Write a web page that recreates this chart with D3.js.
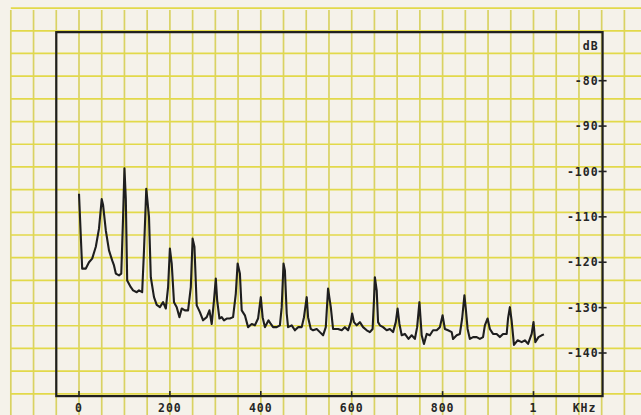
<!DOCTYPE html>
<html>
<head>
<meta charset="utf-8">
<script src="https://cdn.jsdelivr.net/npm/d3@7"></script>
<style>
    body { margin: 0; background: #f5f2ea; }
    svg { display: block; }
    .lbl { font-family: "DejaVu Sans Mono", monospace; font-weight: bold; font-size: 11.5px; fill: #262626; letter-spacing: 1px; }
</style>
</head>
<body>
<div id="chart"></div>
<script>
// spectrum trace: frequency (Hz) and level (dB)
var freqs = [0, 7, 15, 22, 29, 37, 44, 50, 53, 59, 66, 73, 77, 81, 88, 93, 97, 100, 103, 106,
    114, 119, 127, 132, 139, 143, 148, 154, 158, 165, 171, 178, 185, 191, 196, 200, 204, 209, 215, 221,
    226, 233, 240, 246, 250, 254, 259, 266, 273, 281, 287, 292, 297, 301, 304, 309, 314, 319, 325, 332,
    339, 345, 349, 354, 358, 365, 372, 380, 387, 394, 400, 404, 409, 417, 422, 427, 435, 442, 446, 450,
    453, 457, 460, 468, 475, 482, 490, 495, 501, 504, 510, 515, 523, 530, 537, 543, 548, 554, 559, 567,
    570, 578, 585, 592, 598, 601, 605, 611, 618, 625, 633, 640, 646, 649, 651, 655, 658, 662, 669, 677,
    684, 691, 697, 701, 705, 710, 717, 725, 732, 739, 744, 749, 754, 759, 765, 772, 779, 787, 794, 800,
    805, 812, 820, 823, 831, 838, 843, 848, 851, 855, 860, 867, 875, 882, 889, 893, 899, 904, 911, 919,
    926, 933, 941, 944, 948, 952, 957, 965, 974, 981, 988, 996, 1000, 1004, 1011, 1018, 1023];

var levels = [-104.9, -121.4, -121.4, -120.0, -119.2, -116.6, -112.6, -106.1, -107.4, -113.0,
    -117.4, -119.6, -120.7, -122.5, -122.9, -122.5, -110.0, -99.3, -106.0, -124.0,
    -125.5, -126.2, -126.6, -126.2, -126.6, -117.4, -103.8, -110.0, -123.3, -127.7,
    -129.4, -129.9, -128.8, -130.2, -125.5, -117.0, -120.3, -128.8, -129.9, -132.1,
    -130.2, -130.6, -130.6, -125.5, -114.8, -116.6, -129.5, -131.0, -132.8, -132.1,
    -130.6, -133.6, -128.4, -123.6, -128.4, -132.4, -132.1, -132.8, -132.4, -132.4,
    -132.1, -126.9, -120.3, -122.5, -130.6, -131.7, -134.3, -133.6, -133.9, -132.4,
    -127.7, -132.1, -134.3, -132.8, -133.6, -134.3, -134.3, -133.9, -129.9, -120.3,
    -121.8, -131.3, -134.3, -133.9, -135.0, -134.3, -134.3, -132.1, -127.7, -132.1,
    -134.7, -135.0, -134.7, -135.4, -136.1, -134.3, -125.8, -129.9, -134.7, -134.7,
    -134.7, -135.0, -134.3, -135.0, -133.2, -131.3, -133.2, -133.9, -133.2, -134.3,
    -135.0, -135.4, -134.7, -128.4, -123.3, -126.2, -133.2, -133.9, -134.3, -135.0,
    -134.7, -135.4, -133.2, -130.2, -133.6, -136.1, -135.8, -136.9, -136.1, -136.9,
    -134.3, -128.8, -136.1, -138.0, -135.8, -136.1, -135.0, -135.0, -134.3, -131.7,
    -134.7, -135.0, -135.4, -136.9, -136.1, -135.8, -132.4, -127.3, -130.2, -134.7,
    -136.9, -136.5, -136.5, -136.9, -136.5, -133.9, -132.4, -134.7, -135.8, -135.8,
    -136.5, -135.8, -135.8, -132.4, -129.9, -133.0, -138.2, -137.2, -137.6, -137.2,
    -138.0, -135.8, -133.2, -137.6, -136.5, -136.1, -135.9];

var dbTicks = [-80, -90, -100, -110, -120, -130, -140];
var hzTicks = [0, 200, 400, 600, 800, 1000];
var hzLabels = ["0", "200", "400", "600", "800", "1"];

window.onload = function(){
    drawSpectrum();
};

function drawSpectrum(){
    var width = 641, height = 415;

    var svg = d3.select("#chart").append("svg")
        .attr("width", width)
        .attr("height", height);

    svg.append("rect")
        .attr("width", width)
        .attr("height", height)
        .attr("fill", "#f5f2ea");

    var x = d3.scaleLinear().domain([0, 1000]).range([79, 533.5]);
    var y = d3.scaleLinear().domain([-80, -140]).range([80.7, 353]);

    // frame edges in data units
    var left = x(-50), right = x(1152), top = y(-69.3), bottom = y(-149.5);

    // paper grid: 50 Hz columns, 5 dB rows (printed slightly off the dB ticks)
    var gx = d3.range(-150, 1250, 50);
    var gy = d3.range(-64, -160, -5);
    var gridTop = y(-64.4), gridLeft = x(-150);

    svg.append("g").selectAll("line")
        .data(gx)
        .enter()
        .append("line")
        .attr("x1", function(d){ return x(d); })
        .attr("x2", function(d){ return x(d); })
        .attr("y1", gridTop)
        .attr("y2", height)
        .attr("stroke", "#d9d263")
        .attr("stroke-width", 1.7);

    svg.append("g").selectAll("line")
        .data(gy)
        .enter()
        .append("line")
        .attr("x1", gridLeft)
        .attr("x2", width)
        .attr("y1", function(d){ return y(d); })
        .attr("y2", function(d){ return y(d); })
        .attr("stroke", "#e2d94a")
        .attr("stroke-width", 1.7);

    // frame
    svg.append("rect")
        .attr("x", left)
        .attr("y", top)
        .attr("width", right - left)
        .attr("height", bottom - top)
        .attr("fill", "none")
        .attr("stroke", "#1f1f1f")
        .attr("stroke-width", 2.2);

    // spectrum trace
    var points = freqs.map(function(f, i){ return [f, levels[i]]; });
    var line = d3.line()
        .x(function(d){ return x(d[0]); })
        .y(function(d){ return y(d[1]); });

    svg.append("path")
        .datum(points)
        .attr("d", line)
        .attr("fill", "none")
        .attr("stroke", "#1e1e1e")
        .attr("stroke-width", 2.1)
        .attr("stroke-linejoin", "round");

    // dB axis on the right
    var yAxis = svg.append("g");
    yAxis.selectAll("line")
        .data(dbTicks)
        .enter()
        .append("line")
        .attr("x1", right - 4)
        .attr("x2", right + 4)
        .attr("y1", function(d){ return y(d); })
        .attr("y2", function(d){ return y(d); })
        .attr("stroke", "#222")
        .attr("stroke-width", 1.6);

    yAxis.selectAll("text")
        .data(dbTicks)
        .enter()
        .append("text")
        .attr("class", "lbl")
        .attr("x", right - 4)
        .attr("y", function(d){ return y(d); })
        .attr("dy", "0.36em")
        .style("text-anchor", "end")
        .text(function(d){ return d; });

    svg.append("text")
        .attr("class", "lbl")
        .attr("x", right - 4)
        .attr("y", top + 18)
        .style("text-anchor", "end")
        .text("dB");

    // frequency axis
    var xAxis = svg.append("g");
    xAxis.selectAll("line")
        .data(hzTicks)
        .enter()
        .append("line")
        .attr("x1", function(d){ return x(d); })
        .attr("x2", function(d){ return x(d); })
        .attr("y1", bottom - 5)
        .attr("y2", bottom)
        .attr("stroke", "#222")
        .attr("stroke-width", 1.6);

    xAxis.selectAll("text")
        .data(hzTicks)
        .enter()
        .append("text")
        .attr("class", "lbl")
        .attr("x", function(d){ return x(d); })
        .attr("y", bottom + 16)
        .style("text-anchor", "middle")
        .text(function(d, i){ return hzLabels[i]; });

    svg.append("text")
        .attr("class", "lbl")
        .attr("x", right - 18)
        .attr("y", bottom + 16)
        .style("text-anchor", "middle")
        .text("KHz");
}
</script>
</body>
</html>
